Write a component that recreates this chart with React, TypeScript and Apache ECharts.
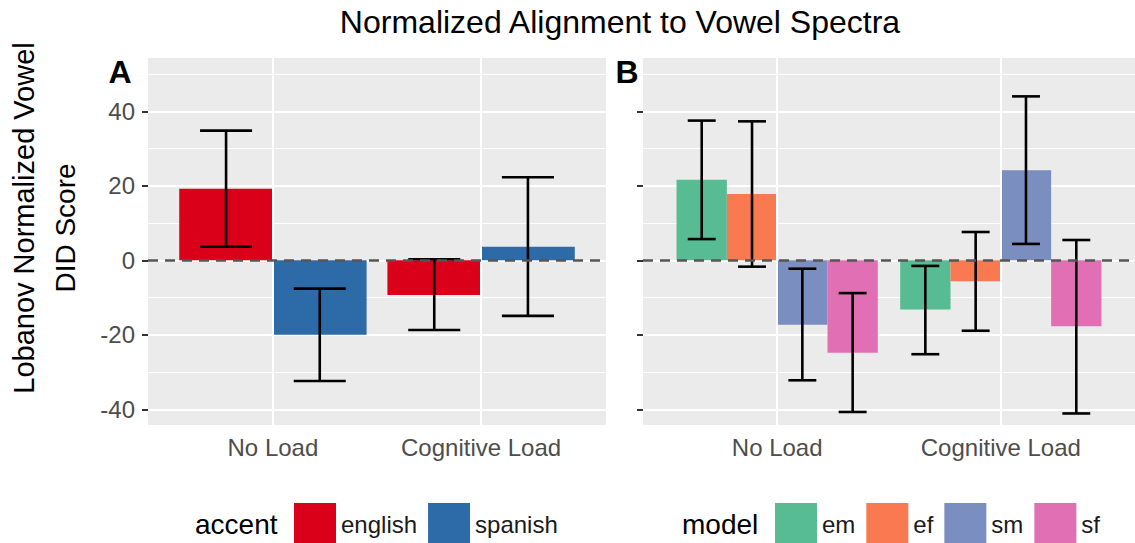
import React, { useEffect, useRef } from "react";
import * as echarts from "echarts";

const FONT = "'Liberation Sans', Arial, Helvetica, sans-serif";

const loads = ["No Load", "Cognitive Load"];
const yTicks = [-40, -20, 0, 20, 40];

const accents = ["english", "spanish"];
const accentColors = ["#DB0019", "#2D6AA8"];
const englishMean = [19.2, -9.3];
const englishLow = [3.65, -18.7];
const englishHigh = [34.8, 0.27];
const spanishMean = [-20.0, 3.65];
const spanishLow = [-32.4, -14.9];
const spanishHigh = [-7.6, 22.3];

const models = ["em", "ef", "sm", "sf"];
const modelColors = ["#57BB93", "#F97A50", "#7B8EC0", "#E070B3"];
const emMean = [21.6, -13.2];
const emLow = [5.7, -25.2];
const emHigh = [37.5, -1.5];
const efMean = [17.8, -5.6];
const efLow = [-1.7, -18.9];
const efHigh = [37.3, 7.6];
const smMean = [-17.3, 24.2];
const smLow = [-32.2, 4.4];
const smHigh = [-2.25, 44.0];
const sfMean = [-24.8, -17.7];
const sfLow = [-40.7, -41.1];
const sfHigh = [-8.8, 5.45];

const accentData = [
  [englishMean, englishLow, englishHigh],
  [spanishMean, spanishLow, spanishHigh],
];
const modelData = [
  [emMean, emLow, emHigh],
  [efMean, efLow, efHigh],
  [smMean, smLow, smHigh],
  [sfMean, sfLow, sfHigh],
];

function rows(d: number[][]) {
  const [m, lo, hi] = d;
  return loads.map((_, i) => [i + 1, m[i], lo[i], hi[i]]);
}

function barRender(g: number, n: number) {
  return (params: any, api: any) => {
    const cat = api.value(0);
    const v = api.value(1);
    const slot = 0.9 / n;
    const cx = cat - 0.45 + (g + 0.5) * slot;
    const p0 = api.coord([cx - slot / 2, 0]);
    const p1 = api.coord([cx + slot / 2, v]);
    return {
      type: "rect",
      shape: {
        x: Math.min(p0[0], p1[0]),
        y: Math.min(p0[1], p1[1]),
        width: Math.abs(p1[0] - p0[0]),
        height: Math.abs(p1[1] - p0[1]),
      },
      style: { fill: api.visual("color") },
    };
  };
}

function errRender(g: number, n: number, cap: number) {
  return (params: any, api: any) => {
    const cat = api.value(0);
    const lo = api.value(2);
    const hi = api.value(3);
    const slot = 0.9 / n;
    const cx = cat - 0.45 + (g + 0.5) * slot;
    const a = api.coord([cx, lo]);
    const b = api.coord([cx, hi]);
    const l1 = api.coord([cx - cap / 2, lo]);
    const r1 = api.coord([cx + cap / 2, lo]);
    const l2 = api.coord([cx - cap / 2, hi]);
    const r2 = api.coord([cx + cap / 2, hi]);
    const st = { stroke: "#000", lineWidth: 2.6, fill: null };
    return {
      type: "group",
      children: [
        { type: "line", shape: { x1: a[0], y1: a[1], x2: b[0], y2: b[1] }, style: st },
        { type: "line", shape: { x1: l1[0], y1: l1[1], x2: r1[0], y2: r1[1] }, style: st },
        { type: "line", shape: { x1: l2[0], y1: l2[1], x2: r2[0], y2: r2[1] }, style: st },
      ],
    };
  };
}

function xAxisOpt(gridIndex: number, showLabel: boolean) {
  return {
    type: "value",
    gridIndex,
    min: 0.4,
    max: 2.6,
    axisLine: { show: false },
    axisTick: {
      show: true,
      customValues: [1, 2],
      length: 6,
      lineStyle: { color: "#333", width: 2 },
    },
    axisLabel: {
      show: showLabel,
      customValues: [1, 2],
      formatter: (v: number) => loads[Math.round(v) - 1] || "",
      fontSize: 24,
      color: "#4D4D4D",
      fontFamily: FONT,
      margin: 10,
    },
    splitLine: { show: false },
  };
}

function yAxisOpt(gridIndex: number, showLabel: boolean) {
  return {
    type: "value",
    gridIndex,
    min: -44.2,
    max: 54.3,
    splitNumber: 5,
    axisLine: { show: false },
    axisTick: {
      show: true,
      customValues: yTicks,
      length: 6,
      lineStyle: { color: "#333", width: 2 },
    },
    axisLabel: {
      show: showLabel,
      customValues: yTicks,
      fontSize: 24,
      color: "#4D4D4D",
      fontFamily: FONT,
      margin: 13,
    },
    splitLine: { show: true, lineStyle: { color: "#FFFFFF", width: 2 } },
    minorTick: { show: false, splitNumber: 2 },
    minorSplitLine: { show: true, lineStyle: { color: "#FFFFFF", width: 1 } },
  };
}

function gridLineSeries(idx: number) {
  return {
    type: "line",
    name: "_grid" + idx,
    xAxisIndex: idx,
    yAxisIndex: idx,
    data: [],
    z: 1,
    silent: true,
    markLine: {
      silent: true,
      symbol: "none",
      animation: false,
      label: { show: false },
      lineStyle: { color: "#FFFFFF", width: 2, type: "solid" },
      data: [{ xAxis: 1 }, { xAxis: 2 }],
    },
  };
}

function zeroLine() {
  return {
    silent: true,
    symbol: "none",
    animation: false,
    label: { show: false },
    lineStyle: { color: "#555555", width: 2.6, type: [10, 7] },
    data: [{ yAxis: 0 }],
  };
}

export default function App() {
  const ref = useRef<HTMLDivElement>(null);
  useEffect(() => {
    document.body.style.margin = "0";
    if (!ref.current) return;
    const chart = echarts.init(ref.current, null, { renderer: "svg" });

    const series: any[] = [gridLineSeries(0), gridLineSeries(1)];
    accents.forEach((name, g) => {
      series.push({
        type: "custom",
        name,
        xAxisIndex: 0,
        yAxisIndex: 0,
        z: 2,
        itemStyle: { color: accentColors[g] },
        renderItem: barRender(g, accents.length),
        encode: { x: 0, y: 1 },
        data: rows(accentData[g]),
      });
    });
    accents.forEach((name, g) => {
      series.push({
        type: "custom",
        name: "_err_" + name,
        xAxisIndex: 0,
        yAxisIndex: 0,
        z: 3,
        renderItem: errRender(g, accents.length, 0.25),
        encode: { x: 0, y: [2, 3] },
        data: rows(accentData[g]),
        markLine: g === accents.length - 1 ? zeroLine() : undefined,
      });
    });
    models.forEach((name, g) => {
      series.push({
        type: "custom",
        name,
        xAxisIndex: 1,
        yAxisIndex: 1,
        z: 2,
        itemStyle: { color: modelColors[g] },
        renderItem: barRender(g, models.length),
        encode: { x: 0, y: 1 },
        data: rows(modelData[g]),
      });
    });
    models.forEach((name, g) => {
      series.push({
        type: "custom",
        name: "_err_" + name,
        xAxisIndex: 1,
        yAxisIndex: 1,
        z: 3,
        renderItem: errRender(g, models.length, 0.125),
        encode: { x: 0, y: [2, 3] },
        data: rows(modelData[g]),
        markLine: g === models.length - 1 ? zeroLine() : undefined,
      });
    });

    const legendBase = {
      top: 503,
      itemWidth: 42,
      itemHeight: 42,
      itemGap: 11,
      padding: 0,
      icon: "rect",
      selectedMode: false,
      textStyle: { fontSize: 24, color: "#1A1A1A", fontFamily: FONT },
    };

    chart.setOption({
      animation: false,
      backgroundColor: "#FFFFFF",
      textStyle: { fontFamily: FONT },
      grid: [
        { left: 148, top: 58, width: 458, height: 367, show: true, backgroundColor: "#EBEBEB", borderWidth: 0 },
        { left: 643, top: 58, width: 496, height: 367, show: true, backgroundColor: "#EBEBEB", borderWidth: 0 },
      ],
      xAxis: [xAxisOpt(0, true), xAxisOpt(1, true)],
      yAxis: [yAxisOpt(0, true), yAxisOpt(1, false)],
      legend: [
        { ...legendBase, left: 294, data: accents },
        { ...legendBase, left: 775, data: models },
      ],
      graphic: [
        {
          type: "text",
          x: 620,
          y: 22,
          style: {
            text: "Normalized Alignment to Vowel Spectra",
            fontSize: 32,
            fontFamily: FONT,
            fill: "#000",
            textAlign: "center",
            textVerticalAlign: "middle",
          },
        },
        {
          type: "text",
          x: 24,
          y: 218,
          rotation: Math.PI / 2,
          style: {
            text: "Lobanov Normalized Vowel",
            fontSize: 29,
            fontFamily: FONT,
            fill: "#000",
            textAlign: "center",
            textVerticalAlign: "middle",
          },
        },
        {
          type: "text",
          x: 65,
          y: 228,
          rotation: Math.PI / 2,
          style: {
            text: "DID Score",
            fontSize: 28,
            fontFamily: FONT,
            fill: "#000",
            textAlign: "center",
            textVerticalAlign: "middle",
          },
        },
        {
          type: "text",
          x: 120,
          y: 72,
          style: {
            text: "A",
            fontSize: 32,
            fontWeight: "bold",
            fontFamily: FONT,
            fill: "#000",
            textAlign: "center",
            textVerticalAlign: "middle",
          },
        },
        {
          type: "text",
          x: 627,
          y: 72,
          style: {
            text: "B",
            fontSize: 32,
            fontWeight: "bold",
            fontFamily: FONT,
            fill: "#000",
            textAlign: "center",
            textVerticalAlign: "middle",
          },
        },
        {
          type: "text",
          x: 195,
          y: 524,
          style: {
            text: "accent",
            fontSize: 28,
            fontFamily: FONT,
            fill: "#000",
            textAlign: "left",
            textVerticalAlign: "middle",
          },
        },
        {
          type: "text",
          x: 682,
          y: 524,
          style: {
            text: "model",
            fontSize: 28,
            fontFamily: FONT,
            fill: "#000",
            textAlign: "left",
            textVerticalAlign: "middle",
          },
        },
      ],
      series,
    });
    return () => chart.dispose();
  }, []);
  return <div ref={ref} style={{ width: 1135, height: 543 }} />;
}
